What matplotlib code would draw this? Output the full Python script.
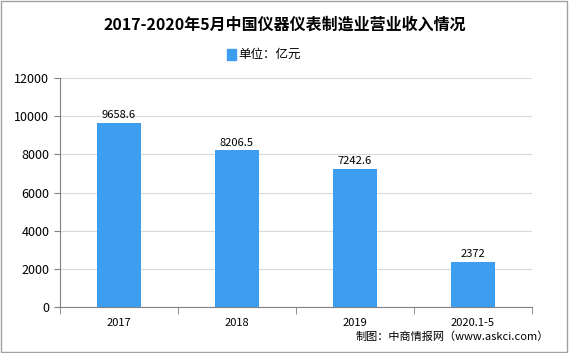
import matplotlib.pyplot as plt
from matplotlib.patches import Rectangle

plt.rcParams['font.family'] = ['Noto Sans CJK SC', 'DejaVu Sans']

# 数据
years = ["2017", "2018", "2019", "2020.1-5"]
revenue = [9658.6, 8206.5, 7242.6, 2372]
value_labels = ["9658.6", "8206.5", "7242.6", "2372"]
bar_color = "#3d9ef0"

fig = plt.figure(figsize=(5.69, 3.53), dpi=100)
ax = fig.add_axes([0.105, 0.130, 0.83, 0.649])

x = range(len(years))
ax.bar(x, revenue, width=0.37, color=bar_color, zorder=3)
for i, v in enumerate(revenue):
    ax.text(i, v + 150, value_labels[i], ha="center", va="bottom", fontsize=8, zorder=4)

ax.set_xlim(-0.5, len(years) - 0.5)
ax.set_ylim(0, 12000)
ax.set_yticks(range(0, 12001, 2000))
ax.yaxis.grid(True, color="#d9d9d9", linewidth=0.8, zorder=0)

ax.set_xticks(list(x))
ax.set_xticklabels(years, fontsize=8)
ax.tick_params(axis="x", length=0, pad=8)
ax.set_xticks([i - 0.5 for i in range(len(years) + 1)], minor=True)
ax.tick_params(axis="x", which="minor", length=5, color="#808080")
ax.tick_params(axis="y", labelsize=9, length=4, color="#808080")

for s in ["top", "right"]:
    ax.spines[s].set_visible(False)
ax.spines["left"].set_color("#808080")
ax.spines["bottom"].set_color("#808080")

fig.text(0.50, 0.93, "2017-2020年5月中国仪器仪表制造业营业收入情况",
         ha="center", va="center", fontsize=11.5, fontweight="bold")

# 图例
fig.patches.append(Rectangle((0.399, 0.83), 0.016, 0.03, transform=fig.transFigure,
                             color=bar_color, figure=fig))
fig.text(0.418, 0.845, "单位：亿元", ha="left", va="center", fontsize=9)

fig.text(0.625, 0.045, "制图：中商情报网（www.askci.com）", ha="left", va="center", fontsize=8)

# 外框
fig.patches.append(Rectangle((0.001, 0.003), 0.996, 0.994, transform=fig.transFigure,
                             fill=False, edgecolor="#a0a0a0", linewidth=1, figure=fig))

fig.savefig("out.png", dpi=100)
